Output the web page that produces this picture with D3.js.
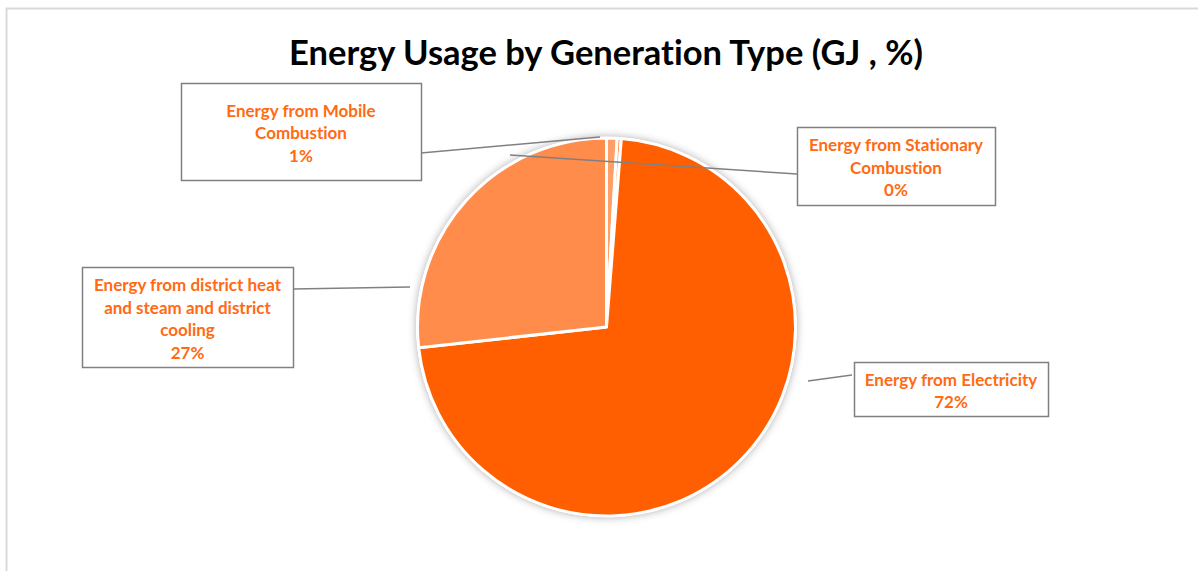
<!DOCTYPE html>
<html>
<head>
<meta charset="utf-8">
<script src="https://cdn.jsdelivr.net/npm/d3@7"></script>
<style>
  body { margin: 0; background: #fff; }
  text { font-family: Lato, "Open Sans", sans-serif; font-variant-ligatures: none; }
</style>
</head>
<body>
<svg width="1198" height="571"></svg>
<script>
// data (order as drawn, clockwise from 12 o'clock)
const categories = [
  'Energy from Mobile Combustion',
  'Energy from Stationary Combustion',
  'Energy from Electricity',
  'Energy from district heat and steam and district cooling'
];
const values = [0.9, 0.35, 72.0, 26.75];
const sliceColors = ['#ff9f66', '#ff8c4b', '#ff5f00', '#ff8c4b'];
const labelLines = [
  ['Energy from Mobile', 'Combustion'],
  ['Energy from Stationary', 'Combustion'],
  ['Energy from Electricity'],
  ['Energy from district heat', 'and steam and district', 'cooling']
];

const svg = d3.select('svg');
const width = +svg.attr('width');
const height = +svg.attr('height');

// chart area border
svg.append('rect')
  .attr('x', 6.5).attr('y', 8.5)
  .attr('width', width + 10).attr('height', height)
  .attr('fill', 'none')
  .attr('stroke', '#d9d9d9')
  .attr('stroke-width', 2);

svg.append('text')
  .attr('x', 606).attr('y', 65)
  .attr('text-anchor', 'middle')
  .attr('font-size', 34.5)
  .attr('font-weight', 'bold')
  .attr('fill', '#000')
  .text('Energy Usage by Generation Type (GJ , %)');

const defs = svg.append('defs');
const shadow = defs.append('filter').attr('id', 'shadow')
  .attr('x', '-20%').attr('y', '-20%').attr('width', '140%').attr('height', '140%');
shadow.append('feDropShadow')
  .attr('dx', 0).attr('dy', 0)
  .attr('stdDeviation', 4)
  .attr('flood-color', '#000')
  .attr('flood-opacity', 0.35);

const cx = 606.5, cy = 327, radius = 189;

const pie = d3.pie().sort(null).value(d => d);
const arc = d3.arc().innerRadius(0).outerRadius(radius);
const arcs = pie(values);

const g = svg.append('g').attr('transform', `translate(${cx},${cy})`);

g.append('circle')
  .attr('r', radius + 1)
  .attr('fill', '#fff')
  .attr('filter', 'url(#shadow)');

g.selectAll('path').data(arcs)
  .enter().append('path')
    .attr('d', arc)
    .attr('fill', (d, i) => sliceColors[i])
    .attr('stroke', '#fff')
    .attr('stroke-width', 3)
    .attr('stroke-linejoin', 'round');

// label boxes (layout)
const boxes = [
  {x: 181, y: 83, w: 240, h: 97, line: [[421, 153], [600, 137]]},
  {x: 797, y: 127, w: 198, h: 78, line: [[797, 174], [510, 155]]},
  {x: 854, y: 362, w: 194, h: 54, line: [[852, 375], [808, 381]]},
  {x: 82, y: 267, w: 211, h: 100, line: [[293, 289], [410, 287]]}
];

const fmt = v => Math.round(v) + '%';

boxes.forEach((b, i) => {
  svg.append('line')
    .attr('x1', b.line[0][0]).attr('y1', b.line[0][1])
    .attr('x2', b.line[1][0]).attr('y2', b.line[1][1])
    .attr('stroke', '#808080')
    .attr('stroke-width', 1.5);

  svg.append('rect')
    .attr('x', b.x + 0.5).attr('y', b.y + 0.5)
    .attr('width', b.w).attr('height', b.h)
    .attr('fill', '#fff')
    .attr('stroke', '#808080')
    .attr('stroke-width', 1.5);

  const lines = labelLines[i].concat([fmt(values[i])]);
  const lh = 22.5;
  const top = b.y + b.h / 2 - (lines.length * lh) / 2 + 19;
  const t = svg.append('text')
    .attr('text-anchor', 'middle')
    .attr('font-size', 17)
    .attr('font-weight', 'bold')
    .attr('fill', '#ff6a13');
  lines.forEach((s, j) => {
    t.append('tspan')
      .attr('x', b.x + b.w / 2)
      .attr('y', top + j * lh)
      .text(s);
  });
});
</script>
</body>
</html>
